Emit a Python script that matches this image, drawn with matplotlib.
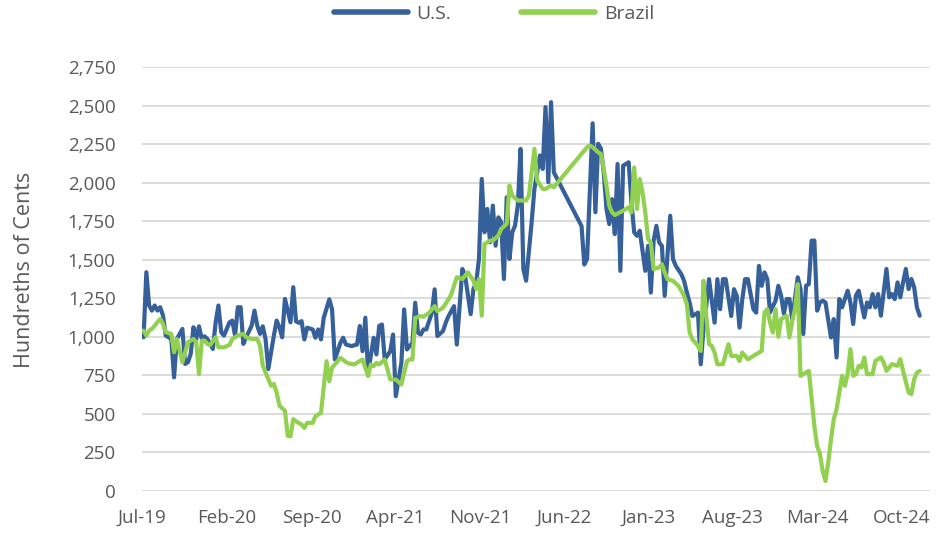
import matplotlib
matplotlib.use("Agg")
import matplotlib.pyplot as plt
import pandas as pd
from matplotlib.ticker import FuncFormatter

# Weekly series starting 2019-07-05 (None = no visible vertex / no data that week)
start_date = "2019-07-05"

us = [
    997, 1419, 1203, 1170, 1203, 1170, 1192, 1138, 1008, None,
    986, 737, 986, None, 1051, 824, 835, 889, 1062, 986,
    1068, 986, 1003, 986, None, 921, 1094, 1203, 1030, 1008,
    None, 1094, 1105, 1008, 1192, 1192, 954, 997, None, 1073,
    1170, 1073, 1019, 1068, 986, 791, None, 1008, 1105, 1062,
    997, 1246, None, 1094, 1322, 1100, 1091, 1102, 983, 1059,
    None, 1048, 994, 1048, 983, 1124, None, 1243, 1178, 853,
    None, 961, 994, 950, None, 940, None, 950, 1070, 907,
    1124, 766, None, 994, 886, 1070, 1080, 853, None, 907,
    1015, 615, None, 831, 1178, 918, None, 961, 1221, 1026,
    1015, 1048, 1048, None, 1156, 1308, 1005, None, 1037, 1091,
    1134, None, 1199, 950, None, 1440, 1396, None, 1147, 1310,
    1353, 1505, 2024, 1678, 1829, 1613, 1851, 1591, 1775, 1743,
    1375, 1905, 1505, 1678, 1721, 1851, 2219, 1440, 1364, None,
    1743, 1959, None, 2176, 2089, 2490, 2003, 2522, 2067, None,
    None, None, None, None, None, None, None, None, 1718, 1469,
    1505, None, 2385, 1808, 2252, 2220, 2067, 1829, 1731, 1893,
    1666, 2121, 1428, 2110, None, 2132, 1872, 1677, 1655, 1688,
    None, 1428, 1590, 1287, 1623, 1720, 1612, 1590, 1266, 1525,
    1785, 1504, 1460, None, 1406, 1363, 1287, 1222, 1135, None,
    1157, 822, 1049, 1200, 1374, None, 1092, 1374, 1179, 1374,
    1374, None, 1135, 1309, 1266, 1060, 1244, 1374, 1374, None,
    1179, 1157, 1460, 1331, 1418, 1375, 1158, None, 1234, 1331,
    1267, 1150, 1245, 1245, 1115, None, 1386, 1310, 1018, 1331,
    1342, 1624, 1624, 1170, 1223, 1234, 1223, None, 996, 1115,
    866, 1245, 1191, None, 1299, 1223, 1083, 1267, 1299, None,
    1126, 1223, 1191, 1277, 1191, 1277, 1137, None, 1440, 1256,
    1277, 1245, 1353, 1256, 1353, 1440, 1310, 1375, 1321, 1191,
    1137,
]

brazil = [
    1040, 1008, 1040, 1051, None, 1094, 1116, 1084, 1030, None,
    1019, 900, 986, None, 835, 900, 965, None, 986, 965,
    759, 975, 975, 954, 947, None, 997, 932, None, 932,
    None, 947, 986, None, 1008, None, 1019, 997, None, 986,
    None, 986, 943, 813, 770, None, 683, 694, 640, 553,
    None, 521, 358, 354, 466, 452, None, 431, 409, 442,
    None, 442, 485, None, 507, None, 842, 712, 799, 821,
    None, 864, None, 836, 827, None, 821, None, 842, 853,
    None, 745, 821, 810, 831, 821, None, 853, None, 723,
    723, 723, None, 691, None, 842, 853, 853, 1124, None,
    1134, 1130, None, 1156, None, 1199, 1167, None, 1188, None,
    1243, 1275, None, 1386, None, 1375, 1396, 1418, None, 1364,
    1310, 1375, 1137, 1602, None, 1624, 1624, None, 1656, 1700,
    None, 1732, 1981, 1916, None, 1884, None, 1884, 1884, 1916,
    None, 2219, 2013, None, 1959, 1959, None, 1981, 1970, None,
    None, None, None, None, None, None, None, None, None, None,
    2230, 2241, 2230, None, 2197, 2186, 2089, 1981, 1850, 1808,
    1790, None, None, 1818, None, 1840, 1807, 2099, 1829, 2023,
    1937, 1807, 1634, 1612, 1439, None, 1450, 1471, 1417, 1374,
    None, 1363, None, 1330, None, 1266, 1211, 1027, 984, None,
    941, 908, 1363, 1135, 952, 941, 898, 822, None, 822,
    887, 952, 876, None, 876, 843, 898, None, 854, None,
    876, None, 898, 909, 1158, 1180, 1093, 1028, 1180, 1000,
    1115, 1126, 1137, 996, 1100, 1180, 1342, 747, 758, None,
    779, 600, 422, 292, 240, 130, 65, 184, 336, 465,
    530, None, 747, 682, 758, 920, 747, 758, 812, 801,
    866, 758, None, 758, 844, None, 866, 834, 779, None,
    823, None, 812, 855, 779, None, 639, 628, 725, 769,
    779,
]

tick_dates = ["2019-07-01", "2020-02-01", "2020-09-01", "2021-04-01", "2021-11-01",
              "2022-06-01", "2023-01-01", "2023-08-01", "2024-03-01", "2024-10-01"]
tick_labels = ["Jul-19", "Feb-20", "Sep-20", "Apr-21", "Nov-21",
               "Jun-22", "Jan-23", "Aug-23", "Mar-24", "Oct-24"]
y_ticks = list(range(0, 2751, 250))

FONT = ["Open Sans", "DejaVu Sans"]
plt.rcParams["font.family"] = FONT
GRAY = "#595959"
US_COLOR = "#36609A"
BR_COLOR = "#92D050"

dates_us = pd.date_range(start_date, periods=len(us), freq="7D")
dates_br = pd.date_range(start_date, periods=len(brazil), freq="7D")
s_us = pd.Series(us, index=dates_us, dtype=float).dropna()
s_br = pd.Series(brazil, index=dates_br, dtype=float).dropna()

fig = plt.figure(figsize=(9.37, 5.38), dpi=100)
ax = fig.add_axes([142 / 937, 1 - 491 / 538, (930 - 142) / 937, (491 - 67) / 538])

ax.plot(s_us.index, s_us.values, color=US_COLOR, lw=3.0, solid_joinstyle="round",
        solid_capstyle="round", label="U.S.", zorder=3)
ax.plot(s_br.index, s_br.values, color=BR_COLOR, lw=3.0, solid_joinstyle="round",
        solid_capstyle="round", label="Brazil", zorder=4)

ax.set_ylim(0, 2750)
ax.set_xlim(pd.Timestamp("2019-07-01"), pd.Timestamp("2024-12-11"))
ax.set_yticks(y_ticks)
ax.yaxis.set_major_formatter(FuncFormatter(lambda v, p: f"{v:,.0f}"))
ax.set_xticks(pd.to_datetime(tick_dates))
ax.set_xticklabels(tick_labels)

ax.yaxis.grid(True, color="#D9D9D9", lw=1.3)
ax.set_axisbelow(True)
for sp in ax.spines.values():
    sp.set_visible(False)
ax.tick_params(axis="both", length=0, colors=GRAY, labelsize=13.5)
ax.tick_params(axis="y", pad=19)
ax.tick_params(axis="x", pad=13)

ax.set_ylabel("Hundreths of Cents", fontsize=15.5, color=GRAY)
ax.yaxis.set_label_coords(-0.1355, 0.522)

leg = fig.legend(loc="center", bbox_to_anchor=(494 / 937, 1 - 14 / 538), ncol=2,
                 frameon=False, fontsize=14, handlelength=3.8, handletextpad=0.45,
                 columnspacing=3.6)
for t in leg.get_texts():
    t.set_color(GRAY)
for h in leg.legend_handles:
    h.set_linewidth(4.0)

fig.savefig("out.png", dpi=100)
